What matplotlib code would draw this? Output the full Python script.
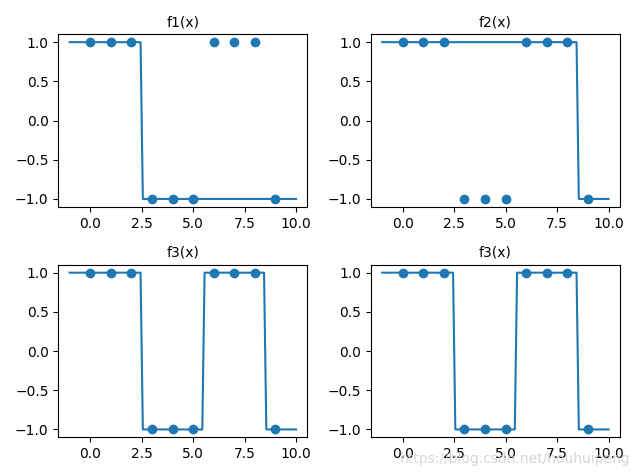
import numpy as np
import matplotlib.pyplot as plt

# sample points
xs = [0, 1, 2, 3, 4, 5, 6, 7, 8, 9]
ys = [1, 1, 1, -1, -1, -1, 1, 1, 1, -1]

# step positions for each classifier: (threshold, value on the right)
titles = ["f1(x)", "f2(x)", "f3(x)", "f3(x)"]
cuts = [
    [2.5],
    [8.5],
    [2.5, 5.5, 8.5],
    [2.5, 5.5, 8.5],
]

grid = np.linspace(-1, 10, 100)


def step(x, c):
    # starts at +1, flips sign at each cut
    s = np.ones_like(x)
    for t in c:
        s = np.where(x > t, -s, s)
    return s


fig, axes = plt.subplots(2, 2, figsize=(6.4, 4.76), dpi=100)
for ax, t, c in zip(axes.flat, titles, cuts):
    ax.plot(grid, step(grid, c))
    ax.scatter(xs, ys)
    ax.set_title(t, fontsize=10)

plt.tight_layout()
fig.text(0.985, 0.02, "https://blog.csdn.net/houhuipeng", ha="right",
         va="bottom", fontsize=10, color="#cccccc", alpha=0.8)
plt.savefig("out.png")
